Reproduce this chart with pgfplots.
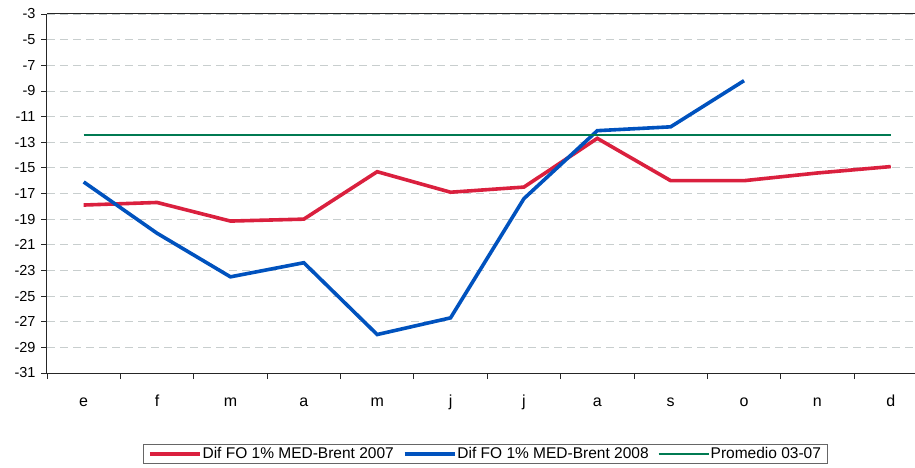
\documentclass[border=0pt]{standalone}
\usepackage{fontspec}
\setmainfont{Liberation Sans}
\usepackage{pgfplots}
\pgfplotsset{compat=1.18}

\definecolor{rojo}{RGB}{218,32,62}
\definecolor{azul}{RGB}{0,82,190}
\definecolor{verde}{RGB}{0,122,82}
\definecolor{rejilla}{RGB}{200,206,206}

\begin{document}
\begin{tikzpicture}
% page frame: 915 x 468, axis box 868 x 359 with its lower left corner at the origin
\path[use as bounding box] (-47pt,-95pt) rectangle (868pt,373pt);
\begin{axis}[
  scale only axis,
  at={(0pt,0pt)}, anchor=south west,
  width=868pt, height=359pt,
  xmin=-0.5, xmax=11.33,
  ymin=-31, ymax=-3,
  axis x line*=box, axis y line*=left,
  axis line style={line width=1pt, black!85},
  ytick={-31,-29,...,-3},
  xtick={0,...,11},
  xticklabels={e,f,m,a,m,j,j,a,s,o,n,d},
  minor xtick={-0.5,0.5,...,11.5},
  major x tick style={draw=none},
  minor x tick style={line width=0.8pt, black!85},
  y tick style={line width=0.8pt, black!85},
  tick align=outside,
  major tick length=6pt, minor tick length=6pt,
  xtick pos=bottom, ytick pos=left,
  ymajorgrids,
  grid style={rejilla, line width=0.8pt, dash pattern=on 8pt off 5pt},
  yticklabel style={font=\fontsize{14.5}{16}\selectfont, xshift=-2pt},
  xticklabel style={font=\fontsize{16}{18}\selectfont, yshift=-16pt,
    text height=8.3pt, text depth=3pt},
  /pgf/number format/assume math mode=true,
  legend columns=3,
  legend style={at={(0.5046,-0.2256)}, anchor=center, draw=black!60,
    line width=0.8pt,
    font=\fontsize{15.5}{17}\selectfont, inner xsep=5pt, inner ysep=2pt,
    nodes={inner xsep=1pt, inner ysep=1pt},
    /tikz/every even column/.append style={column sep=8pt}},
  legend image code/.code={\draw[#1] (0pt,0pt) -- (50pt,0pt);},
]
\addplot[rojo, line width=3.6pt] coordinates {
  (0,-17.9) (1,-17.7) (2,-19.15) (3,-19.0) (4,-15.3) (5,-16.9)
  (6,-16.5) (7,-12.7) (8,-16.0) (9,-16.0) (10,-15.4) (11,-14.9)
};
\addlegendentry{Dif FO 1\% MED-Brent 2007}
\addplot[azul, line width=3.6pt] coordinates {
  (0,-16.1) (1,-20.1) (2,-23.5) (3,-22.4) (4,-28.0) (5,-26.7)
  (6,-17.4) (7,-12.1) (8,-11.8) (9,-8.2)
};
\addlegendentry{Dif FO 1\% MED-Brent 2008}
\addplot[verde, line width=2pt] coordinates {
  (0,-12.4) (1,-12.4) (2,-12.4) (3,-12.4) (4,-12.4) (5,-12.4)
  (6,-12.4) (7,-12.4) (8,-12.4) (9,-12.4) (10,-12.4) (11,-12.4)
};
\addlegendentry{Promedio 03-07}
\end{axis}
\end{tikzpicture}
\end{document}
